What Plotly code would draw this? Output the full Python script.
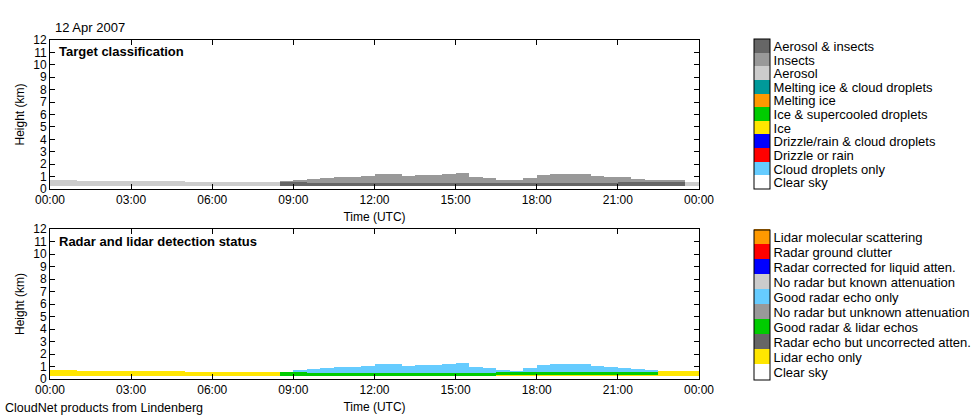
import numpy as np
import plotly.graph_objects as go

# ---------------- data (30-minute bins, 00:00 .. 23:30) ----------------
bin_start_h = [i * 0.5 for i in range(48)]
gate_base_km = 0.25

# Target classification layer tops (km); 0 = layer absent
aerosol_top_km = [0.72, 0.72, 0.70, 0.70, 0.68, 0.68, 0.66, 0.65, 0.65, 0.63,
                  0.62, 0.60, 0.58, 0.60, 0.60, 0.60, 0.60, 0, 0, 0,
                  0, 0, 0, 0, 0, 0, 0, 0, 0, 0,
                  0, 0, 0, 0, 0, 0, 0, 0, 0, 0,
                  0, 0, 0, 0, 0, 0, 0, 0.62]
aer_insect_top_km = [0] * 17 + [0.60, 0.58] + [0.50] * 23 + [0.55, 0.55, 0.55, 0.55, 0.55, 0]
insects_top_km = [0] * 17 + [0.65, 0.72, 0.83, 0.90, 0.97, 1.02, 1.10, 1.22, 1.20, 1.08,
                             1.15, 1.15, 1.20, 1.28, 0.98, 0.88, 0.78, 0.75, 0.88, 1.15,
                             1.22, 1.22, 1.20, 1.08, 1.00, 0.95, 0.82, 0.75, 0.75, 0.72, 0]

# Detection status layer tops (km)
lidar_top_km = [0.72, 0.72, 0.70, 0.70, 0.68, 0.68, 0.66, 0.65, 0.65, 0.63,
                0.60, 0.58, 0.57, 0.58, 0.58, 0.58, 0.58] + [0] * 28 + [0.68, 0.66, 0.65]
lidar_low_top_km = [0] * 33 + [0.35] * 12 + [0, 0, 0]
green_top_km = [0] * 17 + [0.55, 0.55] + [0.50] * 14 + [0.55] * 9 + [0.60, 0.60, 0.60, 0, 0, 0]
blue_top_km = [0] * 17 + [0.62, 0.75, 0.80, 0.90, 0.97, 1.02, 1.10, 1.24, 1.22, 1.05,
                          1.15, 1.17, 1.22, 1.30, 1.00, 0.93, 0.78, 0.70, 0.93, 1.17,
                          1.24, 1.24, 1.22, 1.10, 0.97, 0.93, 0.84, 0.72, 0, 0, 0]

target_names = ["Clear sky", "Cloud droplets only", "Drizzle or rain",
                "Drizzle/rain & cloud droplets", "Ice", "Ice & supercooled droplets",
                "Melting ice", "Melting ice & cloud droplets", "Aerosol", "Insects",
                "Aerosol & insects"]
target_colors = ["#ffffff", "#66ccff", "#ff0000", "#0000ff", "#ffe600", "#00cc00",
                 "#ff9900", "#009999", "#cccccc", "#999999", "#666666"]
status_names = ["Clear sky", "Lidar echo only", "Radar echo but uncorrected atten.",
                "Good radar & lidar echos", "No radar but unknown attenuation",
                "Good radar echo only", "No radar but known attenuation",
                "Radar corrected for liquid atten.", "Radar ground clutter",
                "Lidar molecular scattering"]
status_colors = ["#ffffff", "#ffe600", "#666666", "#00cc00", "#999999", "#66ccff",
                 "#cccccc", "#0000ff", "#ff0000", "#ff9900"]

time_ticks = [0, 3, 6, 9, 12, 15, 18, 21, 24]
time_labels = ["00:00", "03:00", "06:00", "09:00", "12:00", "15:00", "18:00", "21:00", "00:00"]

# ---------------- build grids ----------------
x_edges = bin_start_h + [24.0]
dh = 0.04
y_edges = np.round(np.arange(0, 2.0 + dh / 2, dh), 4)
y_mid = (y_edges[:-1] + y_edges[1:]) / 2

zt = np.zeros((len(y_mid), 48))
zs = np.zeros((len(y_mid), 48))
for i in range(48):
    for j, h in enumerate(y_mid):
        if h < gate_base_km:
            continue
        if h < aer_insect_top_km[i]:
            zt[j, i] = 10
        elif h < insects_top_km[i]:
            zt[j, i] = 9
        elif h < aerosol_top_km[i]:
            zt[j, i] = 8
        if h < lidar_low_top_km[i]:
            zs[j, i] = 1
        elif h < green_top_km[i]:
            zs[j, i] = 3
        elif h < blue_top_km[i]:
            zs[j, i] = 5
        elif h < lidar_top_km[i]:
            zs[j, i] = 1


def discrete_scale(colors):
    n = len(colors)
    sc = []
    for k, c in enumerate(colors):
        sc.append([k / n, c])
        sc.append([(k + 1) / n, c])
    return sc


W, H = 980, 420
FONT = "Liberation Sans, Arial, Helvetica, sans-serif"


def py(px):
    return 1 - px / H


def px_x(px):
    return px / W


fig = go.Figure()


def colorbar(names, center_px):
    return dict(x=px_x(754), xanchor="left", y=py(center_px), yanchor="middle",
                len=150, lenmode="pixels", thickness=16, thicknessmode="pixels",
                outlinewidth=1, outlinecolor="black", tickmode="array",
                tickvals=list(range(len(names))), ticktext=names, ticks="",
                tickfont=dict(size=13, color="black", family=FONT), xpad=0, ypad=0,
                ticklabelposition="outside")


fig.add_trace(go.Heatmap(x=x_edges, y=y_edges, z=zt, zmin=-0.5, zmax=10.5,
                         colorscale=discrete_scale(target_colors), xaxis="x", yaxis="y",
                         colorbar=colorbar(target_names, 114.5), hoverinfo="skip"))
fig.add_trace(go.Heatmap(x=x_edges, y=y_edges, z=zs, zmin=-0.5, zmax=9.5,
                         colorscale=discrete_scale(status_colors), xaxis="x2", yaxis="y2",
                         colorbar=colorbar(status_names, 304.5), hoverinfo="skip"))

xcommon = dict(range=[0, 24], tickmode="array", tickvals=time_ticks, ticktext=time_labels,
               ticks="inside", ticklen=5, tickcolor="black", mirror="ticks", showline=True,
               linecolor="black", linewidth=1, showgrid=False, zeroline=False,
               automargin=False, tickfont=dict(size=12, color="black"),
               title=dict(text="Time (UTC)", font=dict(size=12, color="black"), standoff=6))
ycommon = dict(range=[0, 12], tickmode="linear", tick0=0, dtick=1,
               ticks="inside", ticklen=5, tickcolor="black", mirror="ticks", showline=True,
               linecolor="black", linewidth=1, showgrid=False, zeroline=False,
               automargin=False, tickfont=dict(size=12, color="black"),
               title=dict(text="Height (km)", font=dict(size=12, color="black"), standoff=6))

xd = [px_x(50), px_x(699)]
fig.update_layout(
    width=W, height=H, margin=dict(l=0, r=0, t=0, b=0, autoexpand=False),
    paper_bgcolor="white", plot_bgcolor="white",
    font=dict(family=FONT, size=12, color="black"),
    xaxis=dict(domain=xd, anchor="y", **xcommon),
    yaxis=dict(domain=[py(189), py(40)], anchor="x", **ycommon),
    xaxis2=dict(domain=xd, anchor="y2", **xcommon),
    yaxis2=dict(domain=[py(379), py(229)], anchor="x2", **ycommon),
    showlegend=False,
)

annots = [
    dict(text="12 Apr 2007", x=px_x(53), y=py(28), size=13),
    dict(text="<b>Target classification</b>", x=px_x(57), y=py(51.5), size=13),
    dict(text="<b>Radar and lidar detection status</b>", x=px_x(57), y=py(241.5), size=13),
    dict(text="CloudNet products from Lindenberg", x=px_x(3), y=py(408), size=12.5),
]
for a in annots:
    sz = a.pop("size")
    fig.add_annotation(xref="paper", yref="paper", showarrow=False, xanchor="left",
                       yanchor="middle", font=dict(size=sz, color="black", family=FONT), **a)

fig.write_html("out.html", config={"displayModeBar": False},
               post_script="document.body.style.margin='0';")
